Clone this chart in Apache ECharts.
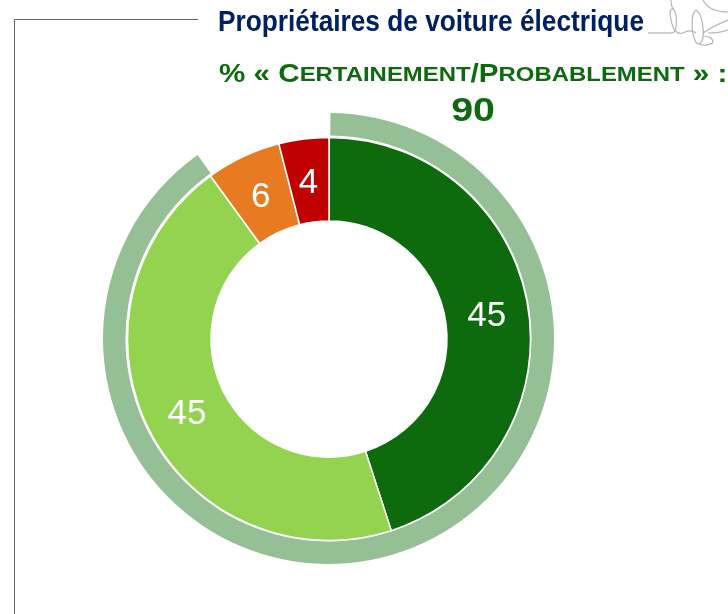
<!DOCTYPE html>
<html>
<head>
<meta charset="utf-8">
<style>
  html, body { margin: 0; padding: 0; background: #fff; overflow: hidden; }
  #myChart { width: 728px; height: 614px; }
</style>
</head>
<body>
<div id="myChart"></div>
<script src="https://cdn.jsdelivr.net/npm/echarts@6/dist/echarts.min.js"></script>
<script>
var categories = ['Certainement', 'Probablement', 'Probablement pas', 'Certainement pas']
var values = [45, 45, 6, 4]
var colors = ['#0D6B0D', '#94D350', '#E87B22', '#C00000']
// anneau extérieur : total certainement/probablement, puis le reste
var ringValues = [90, 10]
var titleText = 'Propriétaires de voiture électrique'
var totalText = '90'

// petit dessin de la voiture en haut à droite
function sketch (x1, y1, cpx1, cpy1, cpx2, cpy2, x2, y2) {
  return {
    type: 'bezierCurve',
    shape: { x1: x1, y1: y1, cpx1: cpx1, cpy1: cpy1, cpx2: cpx2, cpy2: cpy2, x2: x2, y2: y2 },
    style: { stroke: '#B5B5B5', lineWidth: 1.2, fill: null }
  }
}

// décalage des étiquettes par rapport au milieu de la tranche
function labelShift (params) {
  var shifts = [[-3, 3], [3, 1], [1, 6], [0, 6]]
  return { dx: shifts[params.dataIndex][0], dy: shifts[params.dataIndex][1] }
}

var myChart = echarts.init(document.getElementById('myChart'))
myChart.setOption({
  animation: false,
  series: [
    {
      name: 'Anneau',
      type: 'pie',
      silent: true,
      center: [328.5, 338.5],
      radius: [203, 225.5],
      startAngle: 89.5,
      clockwise: true,
      label: { show: false },
      labelLine: { show: false },
      data: [
        { value: ringValues[0], itemStyle: { color: '#95BF95' } },
        { value: ringValues[1], itemStyle: { color: 'transparent' } }
      ]
    },
    {
      name: 'Propriétaires',
      type: 'pie',
      center: [329, 339],
      radius: [118, 201.5],
      startAngle: 90,
      clockwise: true,
      itemStyle: { borderColor: '#fff', borderWidth: 1.5 },
      label: {
        show: true,
        position: 'inside',
        formatter: '{c}',
        color: '#fff',
        fontFamily: 'Liberation Sans',
        fontSize: 35
      },
      labelLine: { show: false },
      labelLayout: labelShift,
      data: categories.map(function (name, i) {
        return { name: name, value: values[i], itemStyle: { color: colors[i] } }
      })
    }
  ],
  graphic: [
    // cadre
    { type: 'polyline', shape: { points: [[198, 19.5], [14.5, 19.5], [14.5, 614]] }, style: { stroke: '#666', lineWidth: 1, fill: null } },
    // titre
    {
      type: 'text', x: 218, y: 8, scaleX: 0.875,
      style: { text: titleText, fill: '#002060', font: 'bold 30px "Liberation Sans"' }
    },
    // sous-titre
    {
      type: 'text', x: 219, y: 62, scaleX: 1.139,
      style: {
        text: '{a|% « C}{b|ERTAINEMENT}{a|/P}{b|ROBABLEMENT}{a| » :}',
        fill: '#0D6B0D',
        rich: {
          a: { font: 'bold 26px "Liberation Sans"', fill: '#0D6B0D' },
          b: { font: 'bold 21px "Liberation Sans"', fill: '#0D6B0D' }
        }
      }
    },
    {
      type: 'text', x: 473, y: 95, scaleX: 1.19,
      style: { text: totalText, fill: '#0D6B0D', align: 'center', font: 'bold 33px "Liberation Sans"' }
    },
    // voiture
    {
      type: 'group',
      children: [
        { type: 'line', shape: { x1: 648, y1: 33, x2: 672, y2: 33 }, style: { stroke: '#B5B5B5', lineWidth: 1.2 } },
        sketch(672, 33, 678, 33, 677, 14, 674, 10),
        sketch(674, 10, 671, 6, 669, 12, 671, 20),
        sketch(671, 20, 673, 30, 677, 35, 683, 33),
        sketch(683, 33, 688, 30, 692, 30, 696, 33),
        sketch(671, 0, 671, 6, 672, 8, 674, 10),
        sketch(696, 10, 690, 14, 692, 34, 695, 40),
        sketch(695, 40, 697, 46, 701, 45, 703, 38),
        sketch(703, 38, 704, 28, 702, 14, 696, 10),
        sketch(699, 44, 703, 46, 712, 45, 713, 42),
        sketch(713, 42, 713, 38, 708, 36, 703, 36),
        sketch(703, 0, 706, 6, 712, 12, 728, 12),
        sketch(703, 33, 710, 28, 718, 24, 728, 20),
        sketch(708, 33, 716, 33, 722, 32, 728, 30)
      ]
    }
  ]
})
</script>
</body>
</html>
